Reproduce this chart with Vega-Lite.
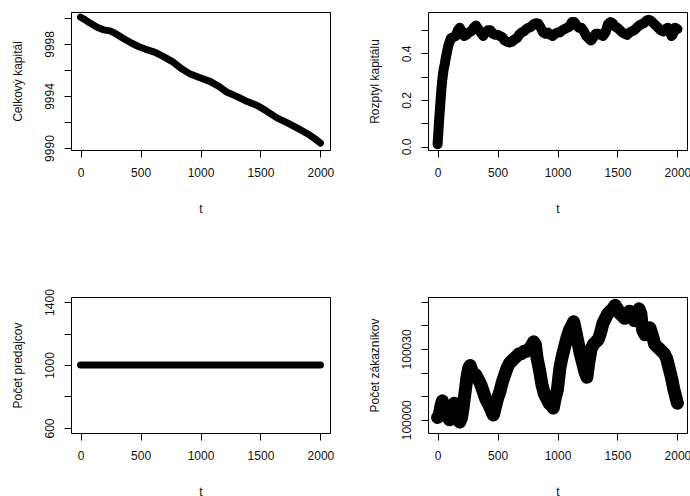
{
  "$schema": "https://vega.github.io/schema/vega-lite/v6.json",
  "background": "white",
  "padding": {"left": 10, "top": 11, "right": 0, "bottom": 0},
  "datasets": {
    "kapital": [
      {"t": 0, "v": 10000.05}, {"t": 36, "v": 9999.87}, {"t": 78, "v": 9999.6}, {"t": 134, "v": 9999.3},
      {"t": 190, "v": 9999.08}, {"t": 245, "v": 9999.0}, {"t": 287, "v": 9998.82}, {"t": 357, "v": 9998.42},
      {"t": 427, "v": 9998.05}, {"t": 483, "v": 9997.8}, {"t": 538, "v": 9997.6}, {"t": 622, "v": 9997.35},
      {"t": 692, "v": 9997.02}, {"t": 776, "v": 9996.58}, {"t": 845, "v": 9996.08}, {"t": 915, "v": 9995.68},
      {"t": 985, "v": 9995.43}, {"t": 1083, "v": 9995.1}, {"t": 1153, "v": 9994.74}, {"t": 1222, "v": 9994.28},
      {"t": 1306, "v": 9993.95}, {"t": 1390, "v": 9993.57}, {"t": 1474, "v": 9993.27}, {"t": 1557, "v": 9992.8},
      {"t": 1641, "v": 9992.3}, {"t": 1725, "v": 9991.93}, {"t": 1808, "v": 9991.53}, {"t": 1892, "v": 9991.1},
      {"t": 1962, "v": 9990.66}, {"t": 2000, "v": 9990.38}
    ],
    "rozptyl": [
      {"t": 0, "v": 0.01}, {"t": 5, "v": 0.05}, {"t": 10, "v": 0.09}, {"t": 15, "v": 0.13}, {"t": 20, "v": 0.165},
      {"t": 25, "v": 0.2}, {"t": 30, "v": 0.235}, {"t": 35, "v": 0.265}, {"t": 40, "v": 0.29}, {"t": 50, "v": 0.33},
      {"t": 60, "v": 0.355}, {"t": 70, "v": 0.385}, {"t": 80, "v": 0.41}, {"t": 90, "v": 0.435}, {"t": 100, "v": 0.45},
      {"t": 110, "v": 0.465}, {"t": 130, "v": 0.47}, {"t": 150, "v": 0.475}, {"t": 170, "v": 0.5}, {"t": 185, "v": 0.51},
      {"t": 200, "v": 0.495}, {"t": 220, "v": 0.475}, {"t": 240, "v": 0.48}, {"t": 260, "v": 0.49}, {"t": 280, "v": 0.495},
      {"t": 300, "v": 0.51}, {"t": 320, "v": 0.52}, {"t": 340, "v": 0.505}, {"t": 360, "v": 0.49}, {"t": 380, "v": 0.475},
      {"t": 400, "v": 0.49}, {"t": 420, "v": 0.5}, {"t": 440, "v": 0.5}, {"t": 460, "v": 0.485}, {"t": 480, "v": 0.48},
      {"t": 500, "v": 0.48}, {"t": 520, "v": 0.475}, {"t": 540, "v": 0.47}, {"t": 560, "v": 0.455}, {"t": 580, "v": 0.45},
      {"t": 600, "v": 0.447}, {"t": 620, "v": 0.45}, {"t": 640, "v": 0.46}, {"t": 660, "v": 0.465}, {"t": 680, "v": 0.48},
      {"t": 700, "v": 0.49}, {"t": 720, "v": 0.495}, {"t": 740, "v": 0.505}, {"t": 760, "v": 0.51}, {"t": 780, "v": 0.515},
      {"t": 800, "v": 0.525}, {"t": 820, "v": 0.53}, {"t": 840, "v": 0.528}, {"t": 860, "v": 0.51}, {"t": 880, "v": 0.49},
      {"t": 900, "v": 0.485}, {"t": 920, "v": 0.49}, {"t": 940, "v": 0.48}, {"t": 960, "v": 0.475}, {"t": 980, "v": 0.485},
      {"t": 1000, "v": 0.49}, {"t": 1020, "v": 0.49}, {"t": 1040, "v": 0.5}, {"t": 1060, "v": 0.505}, {"t": 1080, "v": 0.51},
      {"t": 1100, "v": 0.515}, {"t": 1120, "v": 0.535}, {"t": 1140, "v": 0.535}, {"t": 1160, "v": 0.52}, {"t": 1180, "v": 0.51},
      {"t": 1200, "v": 0.51}, {"t": 1220, "v": 0.495}, {"t": 1240, "v": 0.475}, {"t": 1260, "v": 0.465}, {"t": 1280, "v": 0.455},
      {"t": 1300, "v": 0.47}, {"t": 1320, "v": 0.485}, {"t": 1340, "v": 0.485}, {"t": 1360, "v": 0.48}, {"t": 1380, "v": 0.475},
      {"t": 1400, "v": 0.49}, {"t": 1420, "v": 0.525}, {"t": 1440, "v": 0.535}, {"t": 1460, "v": 0.53}, {"t": 1480, "v": 0.515},
      {"t": 1500, "v": 0.51}, {"t": 1520, "v": 0.5}, {"t": 1540, "v": 0.49}, {"t": 1560, "v": 0.485}, {"t": 1580, "v": 0.48},
      {"t": 1600, "v": 0.49}, {"t": 1620, "v": 0.495}, {"t": 1640, "v": 0.5}, {"t": 1660, "v": 0.51}, {"t": 1680, "v": 0.52},
      {"t": 1700, "v": 0.525}, {"t": 1720, "v": 0.53}, {"t": 1740, "v": 0.54}, {"t": 1760, "v": 0.545}, {"t": 1780, "v": 0.54},
      {"t": 1800, "v": 0.53}, {"t": 1820, "v": 0.52}, {"t": 1840, "v": 0.51}, {"t": 1860, "v": 0.5}, {"t": 1880, "v": 0.495},
      {"t": 1900, "v": 0.505}, {"t": 1920, "v": 0.51}, {"t": 1940, "v": 0.49}, {"t": 1950, "v": 0.475}, {"t": 1960, "v": 0.48},
      {"t": 1980, "v": 0.51}, {"t": 2000, "v": 0.505}
    ],
    "predajcovia": [
      {"t": 0, "v": 1000}, {"t": 200, "v": 1000}, {"t": 400, "v": 1000}, {"t": 600, "v": 1000}, {"t": 800, "v": 1000},
      {"t": 1000, "v": 1000}, {"t": 1200, "v": 1000}, {"t": 1400, "v": 1000}, {"t": 1600, "v": 1000}, {"t": 1800, "v": 1000},
      {"t": 2000, "v": 1000}
    ],
    "zakaznici": [
      {"t": 0, "v": 100001}, {"t": 14, "v": 100002}, {"t": 28, "v": 100006}, {"t": 40, "v": 100008}, {"t": 55, "v": 100004},
      {"t": 70, "v": 100002}, {"t": 85, "v": 100001}, {"t": 100, "v": 100000}, {"t": 115, "v": 100002}, {"t": 130, "v": 100006},
      {"t": 140, "v": 100007}, {"t": 155, "v": 100003}, {"t": 170, "v": 100000}, {"t": 185, "v": 99999}, {"t": 200, "v": 100001},
      {"t": 215, "v": 100006}, {"t": 230, "v": 100012}, {"t": 245, "v": 100018}, {"t": 260, "v": 100022}, {"t": 272, "v": 100023},
      {"t": 285, "v": 100021}, {"t": 300, "v": 100019}, {"t": 320, "v": 100019}, {"t": 340, "v": 100017}, {"t": 360, "v": 100015},
      {"t": 380, "v": 100012}, {"t": 400, "v": 100009}, {"t": 420, "v": 100007}, {"t": 440, "v": 100005}, {"t": 455, "v": 100003},
      {"t": 465, "v": 100002}, {"t": 480, "v": 100005}, {"t": 500, "v": 100009}, {"t": 520, "v": 100012}, {"t": 540, "v": 100016},
      {"t": 560, "v": 100019}, {"t": 580, "v": 100022}, {"t": 600, "v": 100024}, {"t": 620, "v": 100025}, {"t": 640, "v": 100026},
      {"t": 660, "v": 100027}, {"t": 680, "v": 100028}, {"t": 700, "v": 100028}, {"t": 720, "v": 100029}, {"t": 740, "v": 100029},
      {"t": 760, "v": 100030}, {"t": 780, "v": 100031}, {"t": 800, "v": 100033}, {"t": 815, "v": 100032}, {"t": 830, "v": 100026},
      {"t": 850, "v": 100021}, {"t": 870, "v": 100015}, {"t": 890, "v": 100011}, {"t": 910, "v": 100009}, {"t": 930, "v": 100007},
      {"t": 950, "v": 100006}, {"t": 965, "v": 100005}, {"t": 980, "v": 100009}, {"t": 1000, "v": 100013}, {"t": 1020, "v": 100022},
      {"t": 1040, "v": 100027}, {"t": 1060, "v": 100031}, {"t": 1080, "v": 100035}, {"t": 1100, "v": 100038}, {"t": 1120, "v": 100040},
      {"t": 1135, "v": 100041.5}, {"t": 1150, "v": 100038}, {"t": 1170, "v": 100033}, {"t": 1190, "v": 100028}, {"t": 1210, "v": 100024},
      {"t": 1230, "v": 100020}, {"t": 1245, "v": 100018}, {"t": 1260, "v": 100024}, {"t": 1280, "v": 100030}, {"t": 1300, "v": 100032},
      {"t": 1320, "v": 100033}, {"t": 1340, "v": 100034}, {"t": 1360, "v": 100037}, {"t": 1380, "v": 100041}, {"t": 1400, "v": 100043},
      {"t": 1420, "v": 100045}, {"t": 1440, "v": 100046}, {"t": 1460, "v": 100047}, {"t": 1480, "v": 100048.5}, {"t": 1500, "v": 100047},
      {"t": 1520, "v": 100045}, {"t": 1540, "v": 100044}, {"t": 1560, "v": 100043}, {"t": 1580, "v": 100044}, {"t": 1600, "v": 100046},
      {"t": 1620, "v": 100044}, {"t": 1640, "v": 100042}, {"t": 1660, "v": 100044}, {"t": 1680, "v": 100047}, {"t": 1695, "v": 100045},
      {"t": 1710, "v": 100038}, {"t": 1730, "v": 100036}, {"t": 1750, "v": 100038}, {"t": 1770, "v": 100039}, {"t": 1790, "v": 100036},
      {"t": 1810, "v": 100032}, {"t": 1830, "v": 100031}, {"t": 1850, "v": 100030}, {"t": 1870, "v": 100029}, {"t": 1890, "v": 100028},
      {"t": 1910, "v": 100026}, {"t": 1930, "v": 100022}, {"t": 1950, "v": 100018}, {"t": 1970, "v": 100013}, {"t": 1985, "v": 100010},
      {"t": 2000, "v": 100007}
    ]
  },
  "columns": 2,
  "bounds": "flush",
  "spacing": {"row": 147, "column": 98},
  "concat": [
    {
      "width": 259, "height": 138,
      "data": {"name": "kapital"},
      "mark": {"type": "line", "color": "black", "strokeWidth": 7, "strokeCap": "round", "strokeJoin": "round"},
      "encoding": {
        "x": {"field": "t", "type": "quantitative", "scale": {"domain": [-80, 2080], "nice": false, "zero": false},
              "axis": {"values": [0, 500, 1000, 1500, 2000], "title": "t", "format": "d"}},
        "y": {"field": "v", "type": "quantitative", "scale": {"domain": [9989.85, 10000.45], "nice": false, "zero": false},
              "axis": {"values": [9990, 9992, 9994, 9996, 9998, 10000], "title": "Celkový kapitál", "format": "d",
                       "labelExpr": "datum.value % 4 == 2 ? datum.label : ''"}}
      }
    },
    {
      "width": 259, "height": 138,
      "data": {"name": "rozptyl"},
      "mark": {"type": "line", "color": "black", "strokeWidth": 10, "strokeCap": "round", "strokeJoin": "round"},
      "encoding": {
        "x": {"field": "t", "type": "quantitative", "scale": {"domain": [-80, 2080], "nice": false, "zero": false},
              "axis": {"values": [0, 500, 1000, 1500, 2000], "title": "t", "format": "d"}},
        "y": {"field": "v", "type": "quantitative", "scale": {"domain": [-0.015, 0.578], "nice": false, "zero": false},
              "axis": {"values": [0, 0.1, 0.2, 0.3, 0.4, 0.5], "title": "Rozptyl kapitálu", "format": ".1f",
                       "labelExpr": "round(datum.value * 10) % 2 == 0 ? datum.label : ''"}}
      }
    },
    {
      "width": 259, "height": 136,
      "data": {"name": "predajcovia"},
      "mark": {"type": "line", "color": "black", "strokeWidth": 7, "strokeCap": "round", "strokeJoin": "round"},
      "encoding": {
        "x": {"field": "t", "type": "quantitative", "scale": {"domain": [-80, 2080], "nice": false, "zero": false},
              "axis": {"values": [0, 500, 1000, 1500, 2000], "title": "t", "format": "d"}},
        "y": {"field": "v", "type": "quantitative", "scale": {"domain": [568, 1432], "nice": false, "zero": false},
              "axis": {"values": [600, 800, 1000, 1200, 1400], "title": "Počet predajcov", "format": "d",
                       "labelExpr": "(datum.value - 600) % 400 == 0 ? datum.label : ''"}}
      }
    },
    {
      "width": 259, "height": 136,
      "data": {"name": "zakaznici"},
      "mark": {"type": "line", "color": "black", "strokeWidth": 13, "strokeCap": "round", "strokeJoin": "round"},
      "encoding": {
        "x": {"field": "t", "type": "quantitative", "scale": {"domain": [-80, 2080], "nice": false, "zero": false},
              "axis": {"values": [0, 500, 1000, 1500, 2000], "title": "t", "format": "d"}},
        "y": {"field": "v", "type": "quantitative", "scale": {"domain": [99994.4, 100052], "nice": false, "zero": false},
              "axis": {"values": [100000, 100010, 100020, 100030, 100040, 100050], "title": "Počet zákazníkov", "format": "d",
                       "labelExpr": "datum.value == 100000 || datum.value == 100030 ? datum.label : ''"}}
      }
    }
  ],
  "config": {
    "view": {"stroke": "black", "strokeWidth": 1},
    "axis": {
      "domain": false, "grid": false, "tickColor": "black", "tickSize": 7, "tickWidth": 1,
      "labelFont": "Liberation Sans", "labelFontSize": 12, "labelColor": "#111",
      "titleFont": "Liberation Sans", "titleFontSize": 12, "titleFontWeight": "normal", "titleColor": "#111",
      "labelOverlap": false, "labelFlush": false
    },
    "axisX": {"labelPadding": 10, "titlePadding": 23, "minExtent": 30, "maxExtent": 30},
    "axisY": {"labelAngle": -90, "labelAlign": "center", "labelBaseline": "bottom", "labelPadding": 8, "titlePadding": 20, "minExtent": 27, "maxExtent": 27}
  }
}
